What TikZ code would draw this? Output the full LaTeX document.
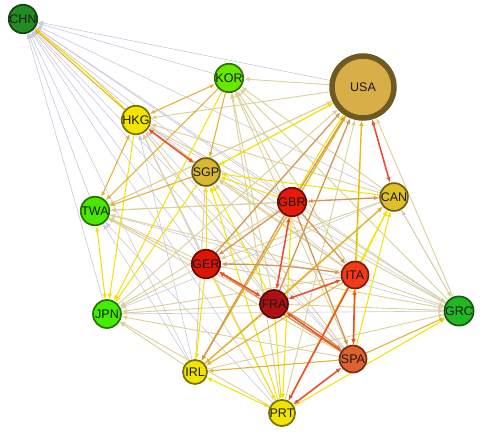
\documentclass[tikz,border=0pt]{standalone}
\usepackage{fontspec}
\usepackage{xcolor}
\usepackage{tikz}
\usetikzlibrary{arrows.meta,backgrounds}
\newfontfamily\ctryfont{Liberation Sans}
\definecolor{edglav}{RGB}{200,200,222}
\definecolor{edgbei}{RGB}{220,208,150}
\definecolor{edgyel}{RGB}{245,225,0}
\definecolor{edggld}{RGB}{226,180,50}
\definecolor{edgtan}{RGB}{214,150,80}
\definecolor{edghot}{RGB}{234,80,48}
\definecolor{colchn}{RGB}{34,140,34}
\definecolor{colkor}{RGB}{102,232,0}
\definecolor{colusa}{RGB}{216,174,72}
\definecolor{rimusa}{RGB}{111,90,34}
\definecolor{colhkg}{RGB}{245,228,0}
\definecolor{colsgp}{RGB}{216,184,48}
\definecolor{colgbr}{RGB}{228,26,10}
\definecolor{colcan}{RGB}{224,192,40}
\definecolor{coltwa}{RGB}{74,232,0}
\definecolor{colger}{RGB}{221,21,5}
\definecolor{colita}{RGB}{244,58,24}
\definecolor{colfra}{RGB}{176,16,16}
\definecolor{coljpn}{RGB}{68,238,0}
\definecolor{colgrc}{RGB}{34,184,34}
\definecolor{colspa}{RGB}{224,96,48}
\definecolor{colirl}{RGB}{240,228,0}
\tikzset{
  ctry/.style={
    circle,
    fill=#1,
    draw=#1!50!black,
    line width=1.7pt,
    inner sep=0pt,
    minimum size=24pt,
    font=\ctryfont\fontsize{12.5}{13}\selectfont,
    text=black!90
  },
  tradeflow/.style={-{Latex[length=5.5pt,width=4.5pt]}},
  twoway/.style={{Latex[length=5.5pt,width=4.5pt]}-{Latex[length=5.5pt,width=4.5pt]}},
  flowlav/.style={tradeflow,draw=edglav,line width=0.6pt},
  flowbei/.style={tradeflow,draw=edgbei,line width=0.9pt},
  flowyel/.style={tradeflow,draw=edgyel,line width=1pt},
  flowgld/.style={tradeflow,draw=edggld,line width=1.1pt},
  flowtan/.style={tradeflow,draw=edgtan,line width=1.3pt},
  flowhot/.style={tradeflow,draw=edghot,line width=1.6pt}
}
\begin{document}
\begin{tikzpicture}[x=1pt,y=-1pt]
  \useasboundingbox (0,0) rectangle (498,434);

  \node[ctry=colchn] (chn) at (23,19) {CHN};
  \node[ctry=colkor,minimum size=26pt] (kor) at (229,78) {KOR};
  \node[circle,fill=colusa,draw=rimusa,line width=5.5pt,minimum size=62pt,inner sep=0pt,
        font=\ctryfont\fontsize{12.5}{13}\selectfont,text=black!90] (usa) at (363,87) {USA};
  \node[ctry=colhkg] (hkg) at (136,120) {HKG};
  \node[ctry=colsgp,minimum size=26pt] (sgp) at (206,172) {SGP};
  \node[ctry=colgbr,minimum size=27pt] (gbr) at (292,202) {GBR};
  \node[ctry=colcan] (can) at (394,197) {CAN};
  \node[ctry=coltwa] (twa) at (95,211) {TWA};
  \node[ctry=colger,minimum size=27pt] (ger) at (206,264) {GER};
  \node[ctry=colita,minimum size=27pt] (ita) at (355,275) {ITA};
  \node[ctry=colfra,minimum size=28pt] (fra) at (274,304) {FRA};
  \node[ctry=coljpn,minimum size=28pt] (jpn) at (107,314) {JPN};
  \node[ctry=colgrc] (grc) at (459,311) {GRC};
  \node[ctry=colspa,minimum size=27pt] (spa) at (353,359) {SPA};
  \node[ctry=colirl] (irl) at (195,372) {IRL};
  \node[ctry=colirl] (prt) at (282,413) {PRT};

  \begin{scope}[on background layer]
    % faint flows
    \foreach \src in {kor,usa,sgp,gbr,can,twa,ger,ita,fra,jpn,grc,spa,irl,prt}
      \draw[flowlav] (\src) -- (chn);
    \foreach \src/\dst in {grc/hkg,spa/hkg,irl/hkg,prt/hkg,can/jpn,grc/twa,irl/twa,
                           prt/twa,jpn/grc,grc/can}
      \draw[flowlav] (\src) -- (\dst);
    \foreach \src/\dst in {usa/kor,gbr/kor,can/kor,ita/kor,fra/kor,grc/kor,spa/kor,prt/kor,
                           usa/hkg,gbr/hkg,can/hkg,ger/hkg,ita/hkg,fra/hkg,
                           twa/usa,jpn/usa,grc/usa,prt/usa,
                           ita/sgp,grc/sgp,spa/sgp,irl/sgp,
                           gbr/twa,can/twa,usa/twa,ger/twa,ita/twa,fra/twa,spa/twa,
                           gbr/jpn,ger/jpn,ita/jpn,fra/jpn,spa/jpn,irl/jpn,prt/jpn,
                           gbr/grc,can/grc,ger/grc,ita/grc,fra/grc,irl/grc,
                           can/ger}
      \draw[flowbei] (\src) -- (\dst);
    % stronger flows
    \foreach \src/\dst in {kor/jpn,hkg/jpn,sgp/jpn,sgp/usa,spa/usa,irl/usa,
                           gbr/sgp,can/sgp,ger/sgp,fra/sgp,prt/sgp,usa/sgp,
                           ita/can,spa/can,prt/can,ger/irl,ger/prt,gbr/prt,fra/prt,
                           prt/grc}
      \draw[flowyel] (\src) -- (\dst);
    \draw[flowyel,twoway] (twa) -- (jpn);
    \draw[flowyel,twoway] (irl) -- (prt);
    \draw[flowyel] (gbr) to[bend left=3] (usa);
    \draw[flowyel] (hkg) to[bend right=3] (chn);
    \foreach \src/\dst in {hkg/chn,kor/twa,kor/sgp,sgp/twa,ita/usa,fra/can,irl/can,
                           usa/irl,ita/irl,fra/irl,spa/irl,spa/grc}
      \draw[flowgld] (\src) -- (\dst);
    \draw[flowgld,twoway] (kor) -- (hkg);
    \draw[flowgld,twoway] (hkg) -- (twa);
    \foreach \src/\dst in {gbr/usa,ger/usa,fra/usa,gbr/ger,gbr/ita,gbr/spa,gbr/irl,spa/ger}
      \draw[flowtan] (\src) -- (\dst);
    \draw[flowtan,twoway] (gbr) -- (can);
    \draw[flowtan,twoway] (ger) to[bend left=4] (ita);
    \draw[flowtan] (fra) to[bend left=4] (spa);
    \draw[flowhot] (spa) -- (fra);
    \draw[flowhot] (ita) -- (prt);
    \draw[flowhot,twoway] (usa) -- (can);
    \draw[flowhot,twoway] (hkg) -- (sgp);
    \draw[flowhot,twoway] (fra) -- (gbr);
    \draw[flowhot,twoway] (ita) -- (fra);
    \draw[flowhot,twoway] (ita) -- (spa);
    \draw[flowhot,twoway] (ger) -- (fra);
    \draw[flowhot,twoway] (spa) -- (prt);
  \end{scope}
\end{tikzpicture}
\end{document}
